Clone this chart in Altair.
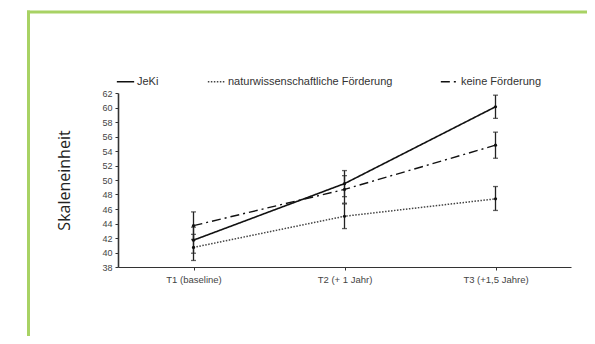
import altair as alt
import pandas as pd

times = ["T1 (baseline)", "T2 (+ 1 Jahr)", "T3 (+1,5 Jahre)"]
groups = ["JeKi", "naturwissenschaftliche Förderung", "keine Förderung"]
y_ticks = [38, 40, 42, 44, 46, 48, 50, 52, 54, 56, 58, 60, 62]

jeki_mean = [41.7, 49.5, 60.1]
jeki_lo = [39.9, 47.7, 58.5]
jeki_hi = [43.5, 51.3, 61.7]

nat_mean = [40.7, 45.0, 47.4]
nat_lo = [38.9, 43.3, 45.8]
nat_hi = [42.5, 46.7, 49.1]

keine_mean = [43.7, 48.7, 54.8]
keine_lo = [41.8, 46.8, 53.0]
keine_hi = [45.6, 50.6, 56.6]

rows = []
for g, m, lo, hi in [
    (groups[0], jeki_mean, jeki_lo, jeki_hi),
    (groups[1], nat_mean, nat_lo, nat_hi),
    (groups[2], keine_mean, keine_lo, keine_hi),
]:
    for t, mv, l, h in zip(times, m, lo, hi):
        rows.append({"Gruppe": g, "Zeit": t, "Wert": mv, "lo": l, "hi": h})
df = pd.DataFrame(rows)

xscale = alt.Scale(type="point", padding=0.5)
xaxis = alt.Axis(
    title=None,
    labelAngle=0,
    labelFontSize=9.5,
    labelFont="Liberation Sans",
    labelColor="#444",
    labelPadding=4,
    tickSize=3,
    tickColor="#333",
    domainColor="#333",
    domainWidth=1.2,
    grid=False,
)
yscale = alt.Scale(domain=[38, 62], nice=False, zero=False)
yaxis = alt.Axis(
    title="Skaleneinheit",
    values=y_ticks,
    labelOverlap=False,
    labelFontSize=9,
    labelFont="Liberation Sans",
    labelColor="#444",
    labelPadding=3,
    tickSize=3,
    tickColor="#333",
    domainColor="#333",
    domainWidth=1.6,
    grid=False,
    titleFont="Open Sans",
    titleFontSize=16,
    titleFontWeight="normal",
    titleColor="#222",
    titleX=-54,
    titleY=87,
    titleAngle=-90,
    titleAlign="center",
    titleBaseline="middle",
)

def X():
    return alt.X("Zeit:N", sort=times, scale=xscale, axis=xaxis)

def Y(field):
    return alt.Y(field, type="quantitative", scale=yscale, axis=yaxis, title="Skaleneinheit")

legend = alt.Legend(
    title=None,
    orient="none",
    direction="horizontal",
    columns=3,
    legendX=-2,
    legendY=-21,
    columnPadding=45,
    symbolType="stroke",
    symbolSize=300,
    labelFont="Liberation Sans",
    labelFontSize=11,
    labelColor="#333",
    labelOffset=2,
    labelLimit=0,
)

color_enc = alt.Color(
    "Gruppe:N",
    sort=groups,
    scale=alt.Scale(domain=groups, range=["#111111", "#444444", "#111111"]),
    legend=legend,
)
dash = alt.StrokeDash(
    "Gruppe:N",
    sort=groups,
    scale=alt.Scale(domain=groups, range=[[1, 0], [1.5, 1.5], [9, 4, 2, 4]]),
    legend=legend,
)
width_enc = alt.StrokeWidth(
    "Gruppe:N",
    sort=groups,
    scale=alt.Scale(domain=groups, range=[1.6, 1.4, 2.2]),
    legend=legend,
)

base = alt.Chart(df)

lines = base.mark_line().encode(x=X(), y=Y("Wert"), strokeDash=dash, strokeWidth=width_enc, color=color_enc)
rules = base.mark_rule(color="#222", strokeWidth=1.3).encode(x=X(), y=Y("lo"), y2="hi:Q")
caps_lo = base.mark_tick(color="#222", size=5, thickness=1.3).encode(x=X(), y=Y("lo"))
caps_hi = base.mark_tick(color="#222", size=5, thickness=1.3).encode(x=X(), y=Y("hi"))
pts = base.mark_point(filled=True, color="#111", size=10, opacity=1).encode(x=X(), y=Y("Wert"))

frame_data = alt.Data(values=[{"k": 1}])
frame_left = alt.Chart(frame_data).mark_rule(color="#A8D264", strokeWidth=3).encode(
    x=alt.value(-89.5), y=alt.value(-82.5), y2=alt.value(300)
)
frame_top = alt.Chart(frame_data).mark_rule(color="#A8D264", strokeWidth=3).encode(
    x=alt.value(-91), x2=alt.value(500), y=alt.value(-81)
)

chart = (
    alt.layer(frame_left, frame_top, lines, rules, caps_lo, caps_hi, pts)
    .properties(
        width=453,
        height=174,
        autosize=alt.AutoSizeParams(type="none"),
        padding={"left": 110, "top": 85, "right": 16, "bottom": 69},
        background="white",
    )
    .configure_view(stroke=None)
)

chart.save("out.html", embed_options={"renderer": "svg", "actions": False})
